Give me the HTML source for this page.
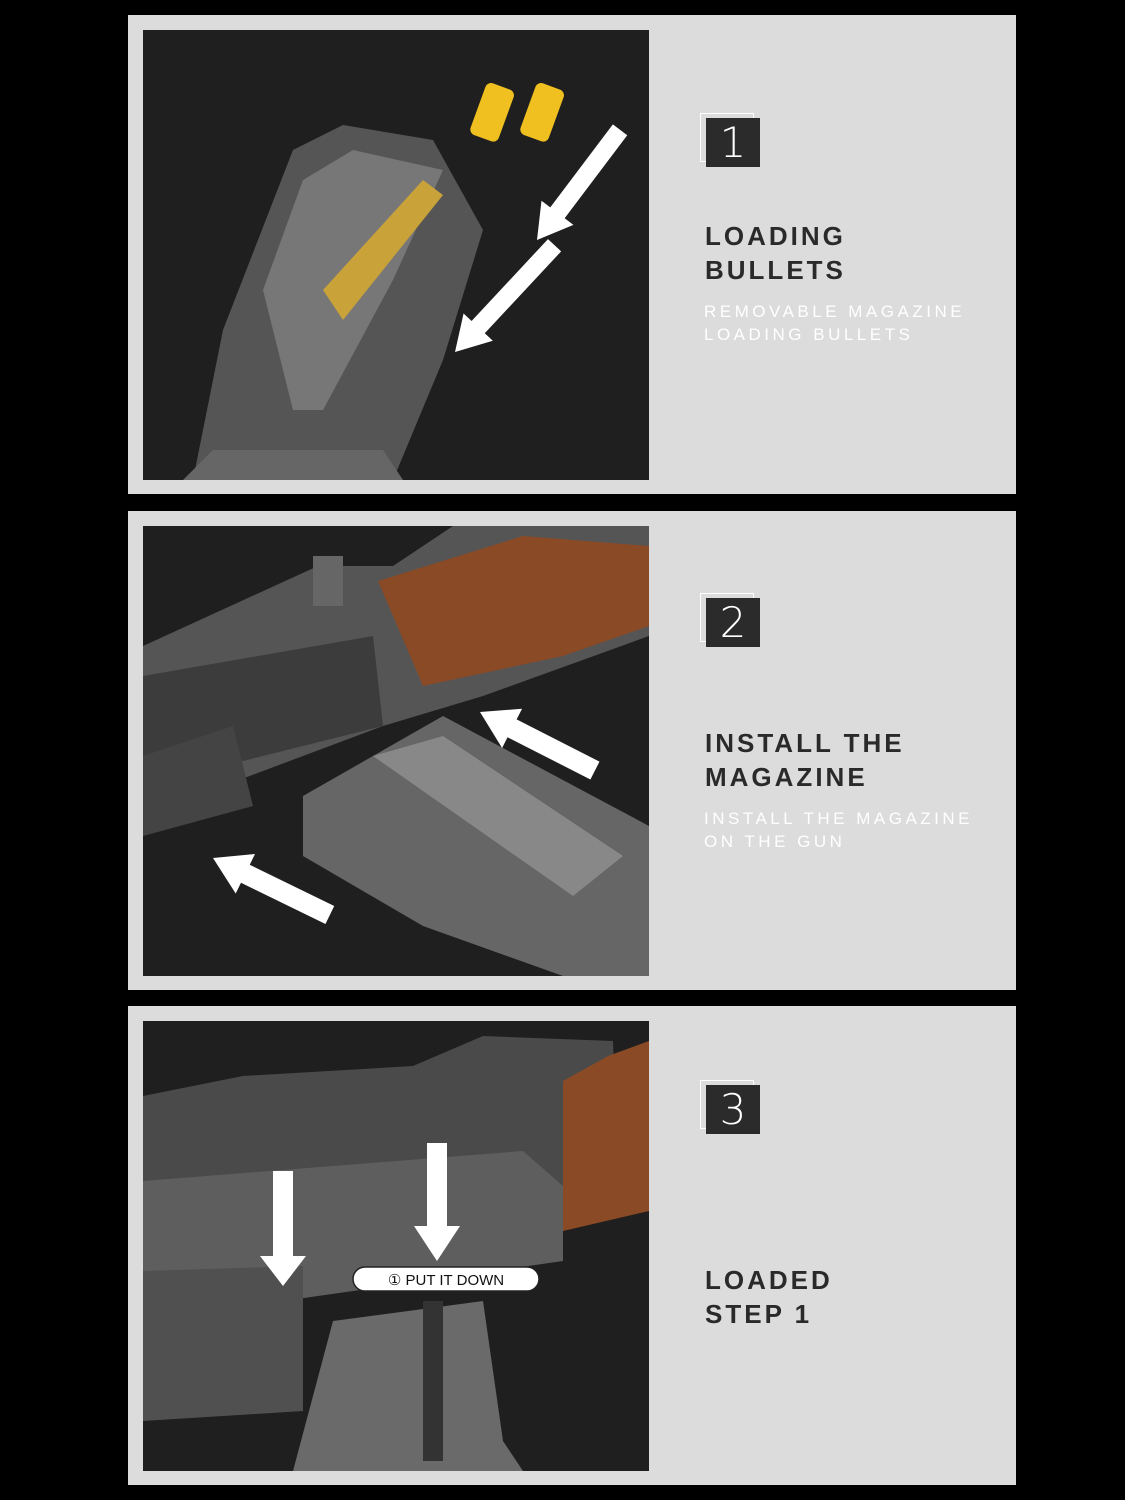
<!DOCTYPE html>
<html><head><meta charset="utf-8"><style>
body{margin:0;background:#000;width:1125px;height:1500px;position:relative;overflow:hidden;font-family:"Liberation Sans",sans-serif}
.p{position:absolute;left:128px;width:888px;height:479px;background:#dcdcdc}
.img{position:absolute;left:15px;top:15px;width:506px;height:450px;background:#1f1f1f;overflow:hidden}
.nb{position:absolute;left:572px;width:54px;height:49px;border:1.5px solid #fff;box-sizing:border-box}
.nf{position:absolute;left:578px;width:54px;height:49px;background:#2b2b2b;color:#fff;font-size:42px;line-height:49px;text-align:center;font-family:"DejaVu Sans",sans-serif;font-weight:300}
.t{position:absolute;left:577px;font-weight:bold;font-size:26px;letter-spacing:3px;color:#2a2a2a;line-height:34px}
.s{position:absolute;left:576px;font-size:17px;letter-spacing:3.5px;color:#fff;line-height:23px}
</style></head><body>

<div class="p" style="top:15px">
 <div class="img"><svg width="506" height="450">
  <polygon points="50,450 80,300 150,120 200,95 290,110 340,200 300,330 250,450" fill="#555"/>
  <polygon points="120,260 160,150 210,120 300,140 250,250 180,380 150,380" fill="#777"/>
  <polygon points="180,260 280,150 300,165 200,290" fill="#c9a23a"/>
  <polygon points="40,450 70,420 240,420 260,450" fill="#666"/>
  <g fill="#f0c020"><rect x="335" y="55" width="30" height="55" rx="6" transform="rotate(20 350 80)"/><rect x="385" y="55" width="30" height="55" rx="6" transform="rotate(20 400 80)"/></g>
  <g fill="#fff">
   <polygon transform="translate(394,210) rotate(127)" points="-138,-9 -34,-9 -34,-20 0,0 -34,20 -34,9 -138,9"/>
   <polygon transform="translate(312,322) rotate(133)" points="-146,-9 -34,-9 -34,-20 0,0 -34,20 -34,9 -146,9"/>
  </g>
 </svg></div>
 <div class="nb" style="top:98px"></div><div class="nf" style="top:103px">1</div>
 <div class="t" style="top:204px">LOADING<br>BULLETS</div>
 <div class="s" style="top:285px">REMOVABLE MAGAZINE<br>LOADING BULLETS</div>
</div>

<div class="p" style="top:511px">
 <div class="img"><svg width="506" height="450">
  <polygon points="0,120 175,40 250,40 310,0 506,0 506,110 340,170 240,200 0,290" fill="#555"/>
  <polygon points="235,55 380,10 506,20 506,100 420,130 280,160" fill="#8a4a25"/>
  <polygon points="170,30 200,30 200,80 170,80" fill="#666"/>
  <polygon points="0,150 230,110 240,200 0,260" fill="#3c3c3c"/>
  <polygon points="160,270 300,190 506,300 506,450 420,450 280,400 160,330" fill="#666"/>
  <polygon points="230,230 300,210 480,330 430,370" fill="#888"/>
  <polygon points="0,230 90,200 110,280 0,310" fill="#444"/>
  <g fill="#fff">
   <polygon transform="translate(337,186) rotate(207)" points="-129,-10 -36,-10 -36,-22 0,0 -36,22 -36,10 -129,10"/>
   <polygon transform="translate(70,332) rotate(206)" points="-130,-10 -36,-10 -36,-22 0,0 -36,22 -36,10 -130,10"/>
  </g>
 </svg></div>
 <div class="nb" style="top:82px"></div><div class="nf" style="top:87px">2</div>
 <div class="t" style="top:215px">INSTALL THE<br>MAGAZINE</div>
 <div class="s" style="top:296px">INSTALL THE MAGAZINE<br>ON THE GUN</div>
</div>

<div class="p" style="top:1006px">
 <div class="img"><svg width="506" height="450">
  <polygon points="0,75 100,55 270,45 340,15 470,20 475,150 420,180 415,215 0,240" fill="#4a4a4a"/>
  <polygon points="0,160 380,130 420,165 420,240 0,300" fill="#5e5e5e"/>
  <polygon points="465,35 506,20 506,190 420,210 420,60" fill="#8a4a25"/>
  <polygon points="0,250 160,245 160,390 0,400" fill="#505050"/>
  <polygon points="190,300 340,280 360,420 380,450 150,450" fill="#6a6a6a"/>
  <polygon points="280,280 300,280 300,440 280,440" fill="#333"/>
  <polygon points="130,150 150,150 150,235 163,235 140,265 117,235 130,235" fill="#fff"/>
  <polygon points="284,122 304,122 304,205 317,205 294,240 271,205 284,205" fill="#fff"/>
  <rect x="210" y="246" width="186" height="24" rx="12" fill="#fff" stroke="#222" stroke-width="1.5"/>
  <text x="303" y="264" text-anchor="middle" font-family="Liberation Sans,sans-serif" font-size="15" fill="#111">① PUT IT DOWN</text>
 </svg></div>
 <div class="nb" style="top:74px"></div><div class="nf" style="top:79px">3</div>
 <div class="t" style="top:257px">LOADED<br>STEP 1</div>
</div>
</body></html>
